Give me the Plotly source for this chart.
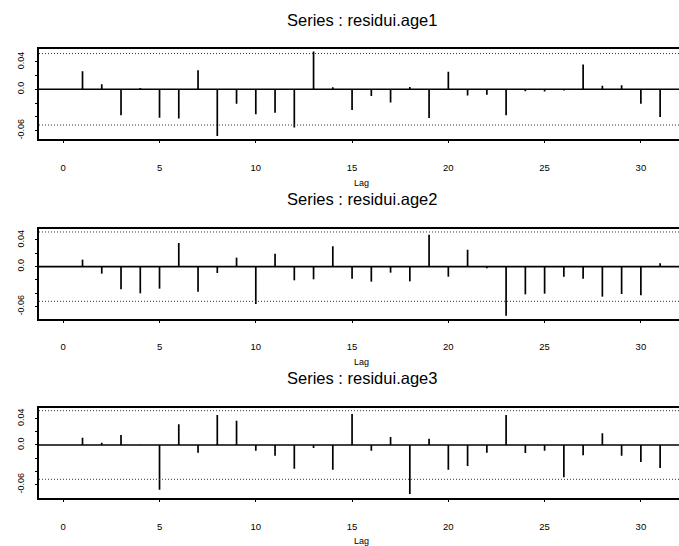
import plotly.graph_objects as go

# Lags shown in each autocorrelation panel
lags = list(range(1, 32))

# Autocorrelations of the residual series, lags 1..31
acf_age1 = [0.0262, 0.0073, -0.0379, 0.0019, -0.0413, -0.0427, 0.0277, -0.0680,
            -0.0209, -0.0364, -0.0340, -0.0558, 0.0549, 0.0029, -0.0301, -0.0097,
            -0.0194, 0.0034, -0.0417, 0.0257, -0.0092, -0.0078, -0.0379, -0.0029,
            -0.0034, -0.0019, 0.0359, 0.0053, 0.0058, -0.0209, -0.0403]
acf_age2 = [0.0105, -0.0105, -0.0340, -0.0400, -0.0330, 0.0355, -0.0375, -0.0095,
            0.0135, -0.0560, 0.0195, -0.0205, -0.0190, 0.0305, -0.0180, -0.0225,
            -0.0090, -0.0220, 0.0480, -0.0150, 0.0255, -0.0025, -0.0735, -0.0415,
            -0.0405, -0.0150, -0.0180, -0.0450, -0.0410, -0.0430, 0.0050]
acf_age3 = [0.0111, 0.0035, 0.0152, 0.0005, -0.0677, 0.0313, -0.0116, 0.0455,
            0.0369, -0.0086, -0.0162, -0.0359, -0.0045, -0.0374, 0.0470, -0.0086,
            0.0121, -0.0742, 0.0096, -0.0374, -0.0318, -0.0116, 0.0455, -0.0121,
            -0.0086, -0.0490, -0.0157, 0.0177, -0.0162, -0.0258, -0.0348]

series_names = ["residui.age1", "residui.age2", "residui.age3"]
series_values = [acf_age1, acf_age2, acf_age3]

# Approximate 95% white-noise bound
conf_bound = 0.052

# y-axis ticks (labels only at a few of them)
ytick_vals = [0.04, 0.02, 0.0, -0.02, -0.04, -0.06]
ytick_text = ["0.04", "", "0.0", "", "", "-0.06"]
xtick_vals = [0, 5, 10, 15, 20, 25, 30]

W, H = 679, 546
# panel geometry in pixels: (top, bottom) and y range per panel
panel_px = [(49.3, 139.3), (229.3, 319.0), (408.3, 498.3)]
y_ranges = [(-0.0728, 0.0582), (-0.0785, 0.0560), (-0.0808, 0.0556)]
title_y_px = [20, 199, 378]
lag_y_px = [183, 362, 541]
left_px = 39
x_range = [-1.26, 31.98]
center_px = 361.5

FONT = "Liberation Sans, Arial, Helvetica, sans-serif"

fig = go.Figure()
layout = dict(
    width=W, height=H,
    margin=dict(l=0, r=0, t=0, b=0),
    paper_bgcolor="white", plot_bgcolor="white",
    showlegend=False,
    font=dict(family=FONT, color="black"),
    shapes=[], annotations=[],
)

for i, (name, vals) in enumerate(zip(series_names, series_values)):
    k = "" if i == 0 else str(i + 1)
    xa, ya = "x" + k, "y" + k
    top, bot = panel_px[i]

    # vertical spikes from zero to each autocorrelation
    xs, ys = [], []
    for lag, v in zip(lags, vals):
        xs += [lag, lag, None]
        ys += [0, v, None]
    fig.add_trace(go.Scatter(x=xs, y=ys, mode="lines", xaxis=xa, yaxis=ya,
                             line=dict(color="black", width=1.7),
                             hoverinfo="skip"))

    layout["xaxis" + k] = dict(
        domain=[left_px / W, 1.0], range=x_range, anchor=ya,
        showline=True, linecolor="black", linewidth=1.6, mirror=True,
        showgrid=False, zeroline=False,
        ticks="outside", ticklen=2, tickwidth=1, tickcolor="black",
        tickvals=xtick_vals, ticklabelstandoff=16,
        tickfont=dict(size=9.5, family=FONT, color="black"),
    )
    layout["yaxis" + k] = dict(
        domain=[1 - bot / H, 1 - top / H], range=list(y_ranges[i]), anchor=xa,
        showline=True, linecolor="black", linewidth=1.6, mirror=False,
        showgrid=False, zeroline=False,
        ticks="outside", ticklen=2, tickwidth=1, tickcolor="black",
        tickvals=ytick_vals, ticktext=ytick_text, tickangle=-90,
        ticklabelstandoff=8,
        tickfont=dict(size=9, family=FONT, color="black"),
    )

    # zero line
    layout["shapes"].append(dict(type="line", xref=xa + " domain", yref=ya,
                                 x0=0, x1=1, y0=0, y1=0,
                                 line=dict(color="black", width=1.6)))
    # dotted confidence bounds
    for b in (conf_bound, -conf_bound):
        layout["shapes"].append(dict(type="line", xref=xa + " domain", yref=ya,
                                     x0=0, x1=1, y0=b, y1=b,
                                     line=dict(color="#333333", width=1,
                                               dash="1px,2px")))

    layout["annotations"].append(dict(
        text="Series : " + name, xref="paper", yref="paper",
        x=center_px / W, y=1 - title_y_px[i] / H, xanchor="center", yanchor="middle",
        showarrow=False, font=dict(size=16.5, family=FONT, color="black")))
    layout["annotations"].append(dict(
        text="Lag", xref="paper", yref="paper",
        x=center_px / W, y=1 - lag_y_px[i] / H, xanchor="center", yanchor="middle",
        showarrow=False, font=dict(size=9, family=FONT, color="black")))

fig.update_layout(**layout)
fig.write_html("out.html")
